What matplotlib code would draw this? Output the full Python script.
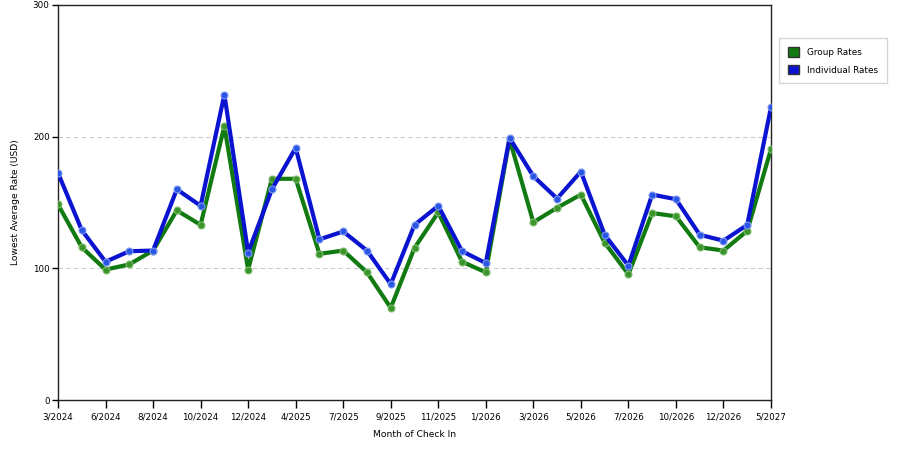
import numpy as np
import matplotlib
matplotlib.use("Agg")
import matplotlib.pyplot as plt
from matplotlib.patches import Patch

months = ["3/2024", "4/2024", "6/2024", "7/2024", "8/2024", "9/2024", "10/2024",
          "11/2024", "12/2024", "2/2025", "4/2025", "6/2025", "7/2025", "8/2025",
          "9/2025", "10/2025", "11/2025", "12/2025", "1/2026", "2/2026", "3/2026",
          "4/2026", "5/2026", "6/2026", "7/2026", "9/2026", "10/2026", "11/2026",
          "12/2026", "3/2027", "5/2027"]

group_rates = [148.5, 116, 99, 103, 113.5, 144, 133, 208, 99, 168, 168, 111,
               113.5, 97, 70, 115.5, 142.5, 105, 97, 198, 135, 146, 156, 119.5,
               95.5, 142, 139.5, 116, 113.5, 128.5, 190.5]
individual_rates = [172.5, 129, 105, 113, 113.5, 160, 147.5, 232, 112, 160, 191.5,
                    122, 128, 113.5, 88, 133, 147.5, 113, 104, 199, 170, 153,
                    173.5, 125.5, 102, 156, 152.5, 125.5, 121, 133, 222.5]

green = "#117a11"
blue = "#0a14d0"

fig = plt.figure(figsize=(9, 4.5), dpi=100)
ax = fig.add_axes([58 / 900, 1 - 400 / 450, (771 - 58) / 900, 395 / 450])

x = np.arange(len(months))
ax.plot(x, group_rates, color=green, lw=3, marker="o", ms=5,
        markerfacecolor="#3a962a", markeredgecolor="#80bb70", markeredgewidth=0.8, zorder=3)
ax.plot(x, individual_rates, color=blue, lw=3, marker="o", ms=5,
        markerfacecolor="#2a56e6", markeredgecolor="#809af0", markeredgewidth=0.8, zorder=4)

ax.set_xlim(0, len(months) - 1)
ax.set_ylim(0, 300)
ax.set_xticks(x[::2])
ax.set_xticklabels(months[::2])
ax.set_yticks([0, 100, 200, 300])
ax.tick_params(axis="x", direction="out", length=6, width=1, labelsize=6.3, pad=3)
ax.tick_params(axis="y", direction="out", length=4, width=1, labelsize=6.3, pad=2)
for s in ax.spines.values():
    s.set_linewidth(1)
    s.set_color("#222222")

for yv in [100, 200]:
    ax.axhline(yv, color="#cccccc", lw=0.8, ls=(0, (4, 3)), zorder=1)

ax.set_xlabel("Month of Check In", fontsize=6.6, labelpad=6)
ax.set_ylabel("Lowest Average Rate (USD)", fontsize=6.6, labelpad=9)

handles = [Patch(facecolor=green, edgecolor="#333333", label="Group Rates"),
           Patch(facecolor=blue, edgecolor="#333333", label="Individual Rates")]
leg = fig.legend(handles=handles, loc="upper left", bbox_to_anchor=(779 / 900, 1 - 38 / 450),
                 borderaxespad=0, fontsize=6.4, frameon=True, fancybox=False,
                 edgecolor="#cccccc", handlelength=1.3, handleheight=1.3, borderpad=1.0,
                 labelspacing=0.9, handletextpad=0.9)

fig.savefig("out.png", dpi=100)
